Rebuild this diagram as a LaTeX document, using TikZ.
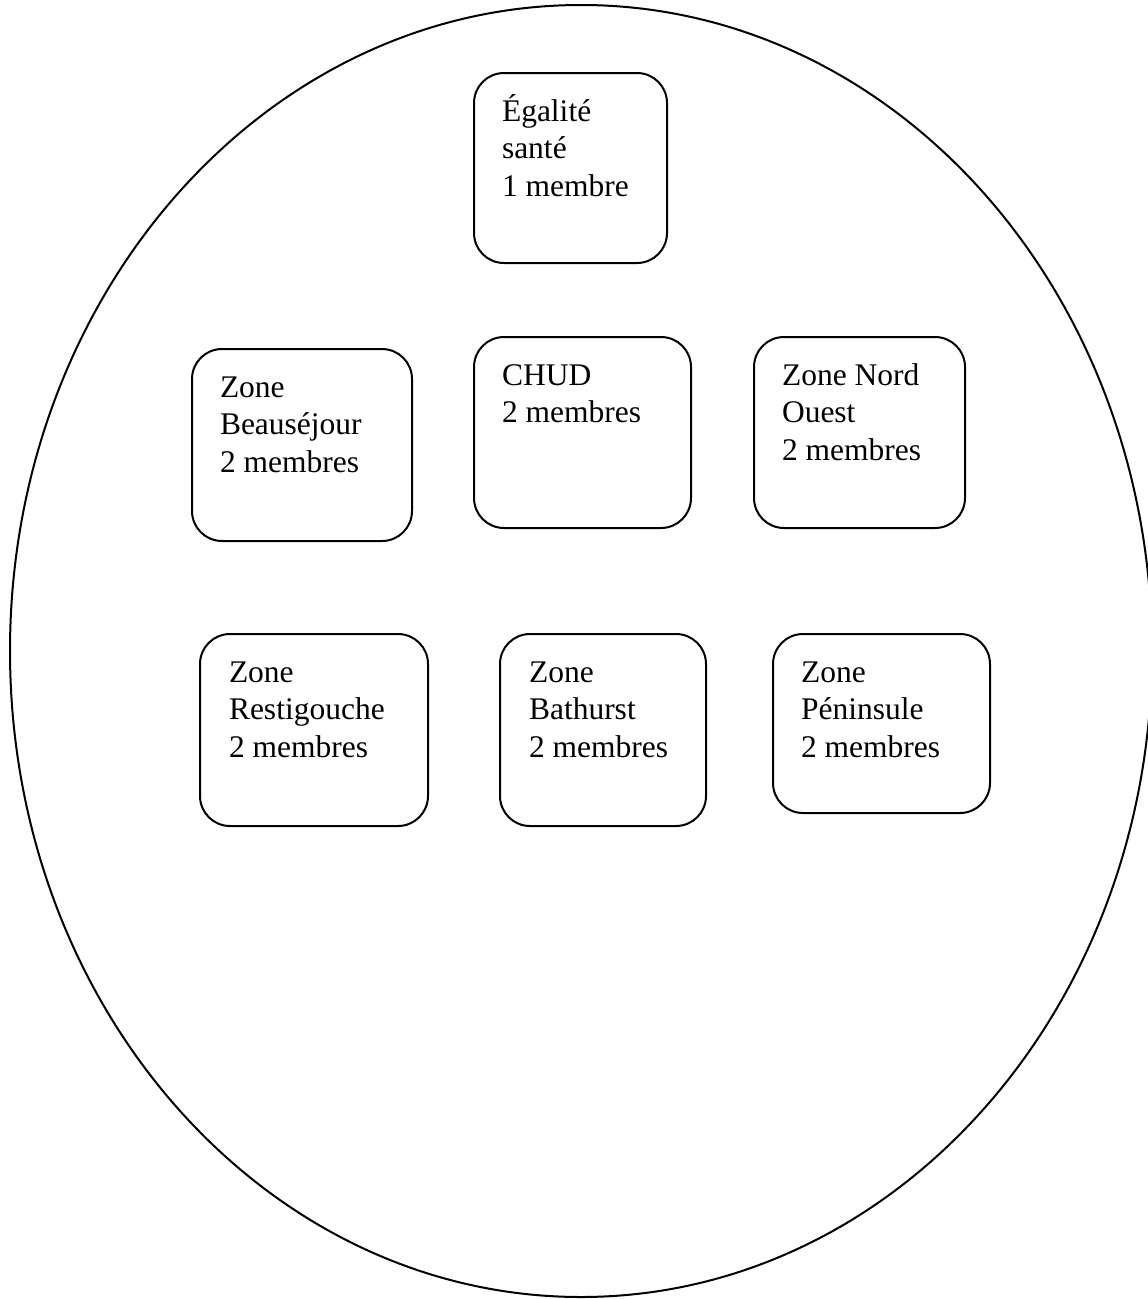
\documentclass[tikz,border=0pt]{standalone}
\usepackage{fontspec}
\setmainfont{Liberation Serif}
\usetikzlibrary{shapes.geometric}
\tikzset{
  boxnode/.style={draw, line width=2pt, rounded corners=30pt, inner sep=0pt, outer sep=0pt},
  labelnode/.style={anchor=base west, inner sep=0pt, outer sep=0pt, font=\fontsize{31.5}{37.5}\selectfont}
}
\newcommand{\lines}[1]{\begin{tabular}[t]{@{}l@{}}#1\end{tabular}}
\begin{document}
\begin{tikzpicture}[x=1pt,y=-1pt]
\useasboundingbox (0,0) rectangle (1148,1299);
\clip (0,0) rectangle (1148,1299);
\node[draw, ellipse, line width=2pt, inner sep=0pt, outer sep=0pt, minimum width=1142pt, minimum height=1292pt] (oval) at (581,651) {};
% boxes
\node[boxnode, minimum width=193pt, minimum height=190pt] (b1) at (570.5,168) {};
\node[boxnode, minimum width=220pt, minimum height=192pt] (b2) at (302,445) {};
\node[boxnode, minimum width=217pt, minimum height=191pt] (b3) at (582.5,432.5) {};
\node[boxnode, minimum width=211pt, minimum height=191pt] (b4) at (859.5,432.5) {};
\node[boxnode, minimum width=228pt, minimum height=192pt] (b5) at (314,730) {};
\node[boxnode, minimum width=206pt, minimum height=192pt] (b6) at (603,730) {};
\node[boxnode, minimum width=217pt, minimum height=179pt] (b7) at (881.5,723.5) {};
% texts
\node[labelnode] (t1) at (502,121) {\lines{Égalité\\santé\\1 membre}};
\node[labelnode] (t2) at (220,397) {\lines{Zone\\Beauséjour\\2 membres}};
\node[labelnode] (t3) at (502,385) {\lines{CHUD\\2 membres}};
\node[labelnode] (t4) at (782,385) {\lines{Zone Nord\\Ouest\\2 membres}};
\node[labelnode] (t5) at (229,682) {\lines{Zone\\Restigouche\\2 membres}};
\node[labelnode] (t6) at (529,682) {\lines{Zone\\Bathurst\\2 membres}};
\node[labelnode] (t7) at (801,682) {\lines{Zone\\Péninsule\\2 membres}};
\end{tikzpicture}
\end{document}
